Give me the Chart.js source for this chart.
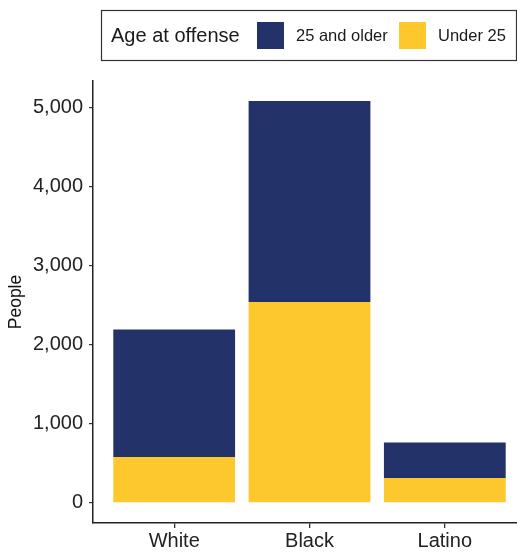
<!DOCTYPE html>
<html>
<head>
<meta charset="utf-8">
<script src="https://cdn.jsdelivr.net/npm/chart.js@4/dist/chart.umd.min.js"></script>
<style>
    body { margin: 0; overflow: hidden; background: #fff; }
    canvas { display: block; }
</style>
</head>
<body>
<canvas id="grafico" width="530" height="552"></canvas>
<script>
const categorias = ['White', 'Black', 'Latino'];
const menores25 = [580, 2540, 315];
const mayores25 = [1613, 2541, 448];
const ticksY = [0, 1000, 2000, 3000, 4000, 5000];
const tituloLeyenda = 'Age at offense';

const azul = '#24326A';
const amarillo = '#FDC72E';
const fuente = "'Liberation Sans', Arial, sans-serif";

// leyenda dibujada a mano: titulo a la izquierda y los items en la misma fila
const leyendaPlugin = {
    id: 'leyendaCaja',
    afterDraw(chart) {
        const ctx = chart.ctx;
        ctx.save();
        ctx.strokeStyle = '#333';
        ctx.lineWidth = 1.2;
        ctx.strokeRect(101.5, 10.5, 415, 50);
        ctx.fillStyle = '#1a1a1a';
        ctx.textBaseline = 'middle';
        ctx.font = '20px ' + fuente;
        ctx.fillText(tituloLeyenda, 111, 36);
        // los items van en orden inverso al apilado
        const items = chart.data.datasets.slice().reverse();
        const posX = [257, 399];
        ctx.font = '16.5px ' + fuente;
        for (let i = 0; i < items.length; i++) {
            ctx.fillStyle = items[i].backgroundColor;
            ctx.fillRect(posX[i], 22, 27, 27);
            ctx.fillStyle = '#1a1a1a';
            ctx.fillText(items[i].label, posX[i] + 39, 36);
        }
        ctx.restore();
    }
};

const myChart = new Chart(document.getElementById('grafico'), {
    type: 'bar',
    data: {
        labels: categorias,
        datasets: [
            {label: 'Under 25', data: menores25, backgroundColor: amarillo, borderWidth: 0},
            {label: '25 and older', data: mayores25, backgroundColor: azul, borderWidth: 0}
        ]
    },
    options: {
        responsive: false,
        animation: false,
        devicePixelRatio: 1,
        layout: {padding: {top: 81, right: 4, left: 0, bottom: 0}},
        datasets: {bar: {categoryPercentage: 0.9, barPercentage: 1}},
        plugins: {legend: {display: false}, tooltip: {enabled: false}},
        scales: {
            x: {
                stacked: true,
                grid: {display: true, offset: false, drawOnChartArea: false, drawTicks: true, tickLength: 5, color: '#333', lineWidth: 1.3},
                border: {display: true, color: '#222', width: 1.5},
                ticks: {color: '#222', font: {family: fuente, size: 20}, padding: 1, maxRotation: 0},
                // mismo margen que ggplot: 0.6 de categoria a cada lado
                beforeCalculateLabelRotation: function (scale) {
                    scale._startValue = -0.6;
                    scale._valueRange = categorias.length - 1 + 1.2;
                },
                afterFit: function (scale) { scale.height = 29; }
            },
            y: {
                stacked: true,
                min: -254,
                max: 5335,
                afterBuildTicks: function (scale) {
                    scale.ticks = ticksY.map(v => ({value: v}));
                },
                grid: {display: true, drawOnChartArea: false, drawTicks: true, tickLength: 4, color: '#333', lineWidth: 1.2},
                border: {display: true, color: '#222', width: 1.5},
                ticks: {
                    color: '#222',
                    font: {family: fuente, size: 20},
                    padding: 6,
                    callback: v => v.toLocaleString('en-US')
                },
                title: {display: true, text: 'People', color: '#111', font: {family: fuente, size: 17.5}, padding: {top: 6, bottom: 0}},
                afterFit: function (scale) { scale.width = 93; }
            }
        }
    },
    plugins: [leyendaPlugin]
});
</script>
</body>
</html>
